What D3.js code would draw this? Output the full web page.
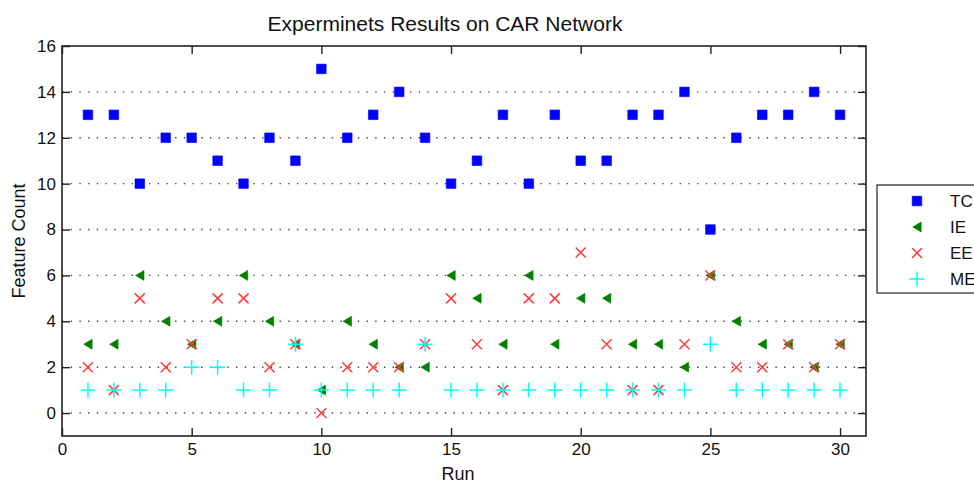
<!DOCTYPE html>
<html>
<head>
<meta charset="utf-8">
<script src="https://cdn.jsdelivr.net/npm/d3@7"></script>
<style>
  body { margin: 0; background: #fff; }
  svg { display: block; font-family: "Liberation Sans", Arial, sans-serif; }
</style>
</head>
<body>
<div id="vis"></div>
<script>
const FRAME_WIDTH = 974;
const FRAME_HEIGHT = 486;
const MARGINS = {left: 62, right: 108, top: 46, bottom: 50};

const VIS_WIDTH = FRAME_WIDTH - MARGINS.left - MARGINS.right;
const VIS_HEIGHT = FRAME_HEIGHT - MARGINS.top - MARGINS.bottom;

// data
const runs = [1, 2, 3, 4, 5, 6, 7, 8, 9, 10, 11, 12, 13, 14, 15,
              16, 17, 18, 19, 20, 21, 22, 23, 24, 25, 26, 27, 28, 29, 30];
const tc = [13, 13, 10, 12, 12, 11, 10, 12, 11, 15, 12, 13, 14, 12, 10,
            11, 13, 10, 13, 11, 11, 13, 13, 14, 8, 12, 13, 13, 14, 13];
const ie = [3, 3, 6, 4, 3, 4, 6, 4, 3, 1, 4, 3, 2, 2, 6,
            5, 3, 6, 3, 5, 5, 3, 3, 2, 6, 4, 3, 3, 2, 3];
const ee = [2, 1, 5, 2, 3, 5, 5, 2, 3, 0, 2, 2, 2, 3, 5,
            3, 1, 5, 5, 7, 3, 1, 1, 3, 6, 2, 2, 3, 2, 3];
const me = [1, 1, 1, 1, 2, 2, 1, 1, 3, 1, 1, 1, 1, 3, 1,
            1, 1, 1, 1, 1, 1, 1, 1, 1, 3, 1, 1, 1, 1, 1];
const seriesNames = ["TC", "IE", "EE", "ME"];
const xTicks = [0, 5, 10, 15, 20, 25, 30];
const yTicks = [0, 2, 4, 6, 8, 10, 12, 14, 16];

const COLORS = {TC: "#0000ff", IE: "#007f00", EE: "#ff3b3b", ME: "#00ffff"};

const FRAME = d3.select("#vis")
  .append("svg")
    .attr("width", FRAME_WIDTH)
    .attr("height", FRAME_HEIGHT);

const X_SCALE = d3.scaleLinear().domain([0, 31]).range([0, VIS_WIDTH]);
const Y_SCALE = d3.scaleLinear().domain([-1, 16]).range([VIS_HEIGHT, 0]);

const plot = FRAME.append("g")
  .attr("transform", "translate(" + MARGINS.left + "," + MARGINS.top + ")");

// dotted horizontal grid
plot.selectAll(".grid")
  .data(yTicks.filter(d => d < 16))
  .enter()
  .append("line")
    .attr("x1", 0)
    .attr("x2", VIS_WIDTH)
    .attr("y1", d => Y_SCALE(d))
    .attr("y2", d => Y_SCALE(d))
    .attr("stroke", "#444")
    .attr("stroke-width", 1.4)
    .attr("stroke-dasharray", "1.4,7.3");

// axes, ticks pointing inwards
const TICK = 8;
const tickStyle = g => {
  g.select(".domain").remove();
  g.selectAll(".tick line").attr("stroke", "#222").attr("stroke-width", 1.4);
  g.selectAll("text").attr("fill", "#111").attr("font-size", "17px");
};

plot.append("g")
  .attr("transform", "translate(0," + VIS_HEIGHT + ")")
  .call(d3.axisBottom(X_SCALE).tickValues(xTicks).tickSizeInner(-TICK).tickSizeOuter(0).tickPadding(7))
  .call(tickStyle);

plot.append("g")
  .call(d3.axisTop(X_SCALE).tickValues(xTicks).tickSizeInner(-TICK).tickSizeOuter(0).tickFormat(""))
  .call(tickStyle);

plot.append("g")
  .call(d3.axisLeft(Y_SCALE).tickValues(yTicks).tickSizeInner(-TICK).tickSizeOuter(0).tickPadding(6))
  .call(tickStyle);

plot.append("g")
  .attr("transform", "translate(" + VIS_WIDTH + ",0)")
  .call(d3.axisRight(Y_SCALE).tickValues(yTicks).tickSizeInner(-TICK).tickSizeOuter(0).tickFormat(""))
  .call(tickStyle);

// box
plot.append("rect")
  .attr("x", 0)
  .attr("y", 0)
  .attr("width", VIS_WIDTH)
  .attr("height", VIS_HEIGHT)
  .attr("fill", "none")
  .attr("stroke", "#222")
  .attr("stroke-width", 1.6);

// marker shapes
const MARKERS = {
  TC: "M-4.8,-4.8H4.8V4.8H-4.8Z",
  IE: "M-4.2,0L4.2,-5L4.2,5Z",
  EE: "M-5,-5L5,5M-5,5L5,-5",
  ME: "M-7.5,0H7.5M0,-7.5V7.5"
};

function drawMarker(sel, name) {
  const filled = name === "TC" || name === "IE";
  sel.attr("d", MARKERS[name])
    .attr("fill", filled ? COLORS[name] : "none")
    .attr("stroke", COLORS[name])
    .attr("stroke-width", filled ? 0.6 : 1.5);
}

const seriesData = {TC: tc, IE: ie, EE: ee, ME: me};

seriesNames.forEach(name => {
  plot.selectAll(".pt-" + name)
    .data(runs.map((r, i) => ({run: r, value: seriesData[name][i]})))
    .enter()
    .append("path")
      .attr("class", "pt-" + name)
      .attr("transform", d => "translate(" + X_SCALE(d.run) + "," + Y_SCALE(d.value) + ")")
      .call(drawMarker, name);
});

// title and axis labels
FRAME.append("text")
  .attr("x", 445)
  .attr("y", 31)
  .attr("text-anchor", "middle")
  .attr("font-size", "21px")
  .attr("fill", "#111")
  .text("Experminets Results on CAR Network");

FRAME.append("text")
  .attr("x", MARGINS.left + VIS_WIDTH / 2 - 6)
  .attr("y", 480)
  .attr("text-anchor", "middle")
  .attr("font-size", "18px")
  .attr("fill", "#111")
  .text("Run");

FRAME.append("text")
  .attr("transform", "translate(25," + (MARGINS.top + VIS_HEIGHT / 2) + ") rotate(-90)")
  .attr("text-anchor", "middle")
  .attr("font-size", "18px")
  .attr("fill", "#111")
  .text("Feature Count");

// legend
const legend = FRAME.append("g").attr("transform", "translate(877,185)");

legend.append("rect")
  .attr("width", 120)
  .attr("height", 108)
  .attr("fill", "#fff")
  .attr("stroke", "#222")
  .attr("stroke-width", 1.2);

const LEGEND_Y = d3.scalePoint().domain(seriesNames).range([16, 94]);

seriesNames.forEach(name => {
  legend.append("path")
    .attr("transform", "translate(40," + LEGEND_Y(name) + ")")
    .call(drawMarker, name);
  legend.append("text")
    .attr("x", 73)
    .attr("y", LEGEND_Y(name))
    .attr("dy", "0.35em")
    .attr("font-size", "17px")
    .attr("fill", "#111")
    .text(name);
});
</script>
</body>
</html>
